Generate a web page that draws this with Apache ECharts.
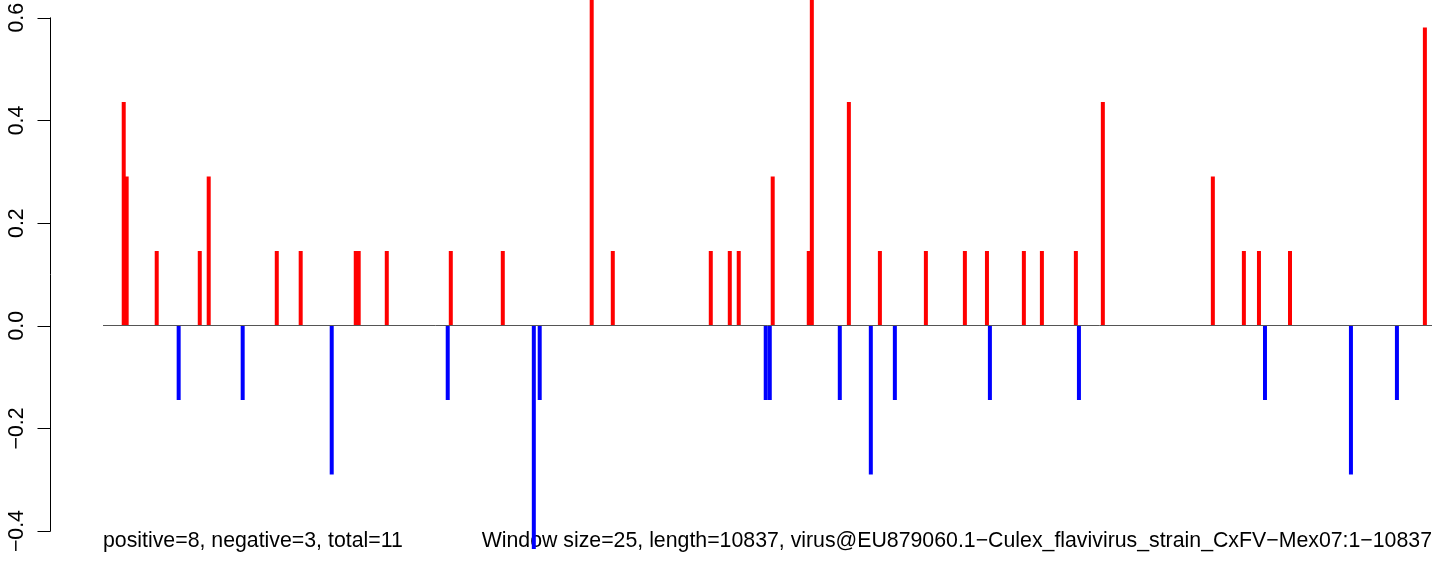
<!DOCTYPE html>
<html><head><meta charset="utf-8">
<script src="https://cdn.jsdelivr.net/npm/echarts@6/dist/echarts.min.js"></script>
<style>html,body{margin:0;padding:0;background:#fff}#c{width:1444px;height:561px}</style>
</head><body><div id="c"></div>
<script>
const seqLength = 10837;
const yTicks = [-0.4, -0.2, 0.0, 0.2, 0.4, 0.6];
const posX = [169,193,438,789,862,1417,1612,2061,2085,2314,2836,3260,3985,4157,4956,5111,5184,5461,5755,5780,6082,6335,6710,7028,7208,7509,7656,7933,8153,9050,9303,9426,9679,10779];
const posY = [0.435,0.29,0.145,0.145,0.29,0.145,0.145,0.145,0.145,0.145,0.145,0.145,0.725,0.145,0.145,0.145,0.145,0.29,0.145,0.725,0.435,0.145,0.145,0.145,0.145,0.145,0.145,0.145,0.435,0.29,0.145,0.145,0.145,0.58];
const negX = [617,1139,1865,2811,3513,3561,5404,5437,6008,6261,6457,7232,7958,9475,10176,10551];
const negY = [-0.145,-0.145,-0.29,-0.145,-0.435,-0.145,-0.145,-0.145,-0.145,-0.29,-0.145,-0.145,-0.145,-0.145,-0.29,-0.145];
const leftText = 'positive=8, negative=3, total=11';
const rightText = 'Window size=25, length=10837, virus@EU879060.1\u2212Culex_flavivirus_strain_CxFV\u2212Mex07:1\u221210837';

const FONT = '"Liberation Sans", Arial, Helvetica, sans-serif';
const FS = 21.3;
const zeroY = 325.5, pxPerUnit = 513.9, H = 561;
const data = posX.map((x, i) => ({ value: [x, posY[i]], itemStyle: { color: '#FF0000' } }))
  .concat(negX.map((x, i) => ({ value: [x, negY[i]], itemStyle: { color: '#0000FF' } })));

const chart = echarts.init(document.getElementById('c'), null, { renderer: 'canvas' });
chart.setOption({
  animation: false,
  backgroundColor: '#ffffff',
  grid: [
    { left: 103, top: 0, width: 1329, height: H },
    { left: 50.5, top: zeroY - 0.6 * pxPerUnit, width: 10, height: pxPerUnit }
  ],
  xAxis: [
    { type: 'value', gridIndex: 0, min: 0, max: seqLength, show: false },
    { type: 'value', gridIndex: 1, min: 0, max: 1, show: false }
  ],
  yAxis: [
    { type: 'value', gridIndex: 0, min: -(H - zeroY) / pxPerUnit, max: zeroY / pxPerUnit, show: false },
    { type: 'value', gridIndex: 1, min: yTicks[0], max: yTicks[yTicks.length - 1], interval: 0.2,
      axisLine: { show: true, lineStyle: { color: '#000', width: 1 } },
      axisTick: { show: true, length: 13, inside: false, lineStyle: { color: '#000', width: 1 } },
      splitLine: { show: false },
      axisLabel: { show: true, rotate: 90, margin: 23, color: '#000', fontSize: FS, fontFamily: FONT,
        formatter: v => v.toFixed(1).replace('-', '\u2212') } }
  ],
  series: [
    { type: 'bar', xAxisIndex: 0, yAxisIndex: 0, barWidth: 4, data: data, clip: true, z: 2 },
    { type: 'line', xAxisIndex: 0, yAxisIndex: 0, data: [[0, 0], [seqLength, 0]], symbol: 'none',
      lineStyle: { color: '#555555', width: 1 }, z: 3, silent: true }
  ],
  graphic: [
    { type: 'text', left: 103, top: 531, style: { text: leftText, font: FS + 'px ' + FONT, fill: '#000' } },
    { type: 'text', right: 12, top: 531, style: { text: rightText, font: FS + 'px ' + FONT, fill: '#000' } }
  ]
});
</script></body></html>
